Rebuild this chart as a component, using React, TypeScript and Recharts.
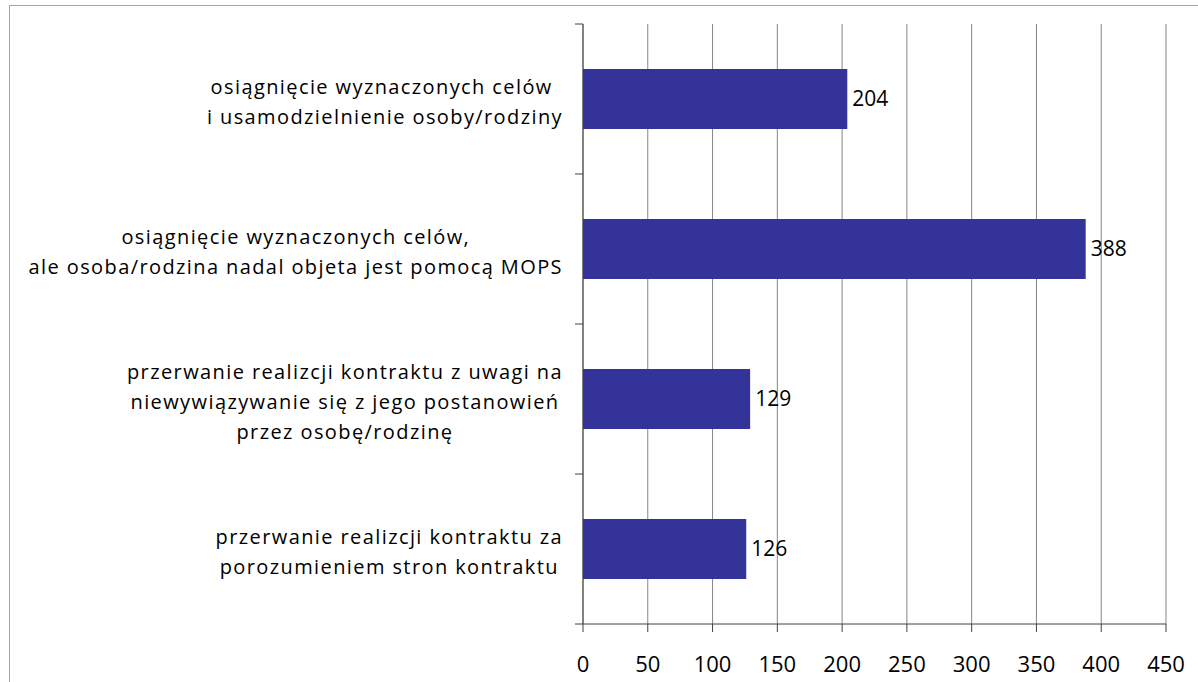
import { BarChart, Bar, XAxis, YAxis, CartesianGrid, LabelList } from 'recharts';

// categories (lines split on \n), values and axis ticks
const categories = [
  'osiągnięcie wyznaczonych celów \ni usamodzielnienie osoby/rodziny',
  'osiągnięcie wyznaczonych celów,\nale osoba/rodzina nadal objeta jest pomocą MOPS',
  'przerwanie realizcji kontraktu z uwagi na\nniewywiązywanie się z jego postanowień\nprzez osobę/rodzinę',
  'przerwanie realizcji kontraktu za\nporozumieniem stron kontraktu',
];
const values = [204, 388, 129, 126];
const xTicks = [0, 50, 100, 150, 200, 250, 300, 350, 400, 450];

const data = categories.map((name, i) => ({ name, value: values[i] }));

const W = 1198;
const H = 682;
const M_TOP = 24;
const X_AXIS_H = 58;
const LABEL_GAP = 20;
const BAND = (H - M_TOP - X_AXIS_H) / categories.length;

const FONT = '"Open Sans", sans-serif';
const LABEL_SIZE = 20;
const SPACING = 1.4;
const LINE_H = 30;
const AXIS = '#404040';
const GRID = '#868686';
const BORDER = '#a6a6a6';

let ctx: CanvasRenderingContext2D | null = null;
function textWidth(s: string) {
  if (!ctx) ctx = document.createElement('canvas').getContext('2d');
  if (!ctx) return s.length * 11;
  ctx.font = `${LABEL_SIZE}px "Open Sans"`;
  // letterSpacing is not in every canvas, so add it by hand
  return ctx.measureText(s).width + s.length * SPACING;
}

// multi-line label, lines centred on each other, block right-aligned to the axis.
// Excel puts the axis ticks between categories, so draw them here too.
function CategoryTick(props: any) {
  const { x, y, payload, index, visibleTicksCount } = props;
  const lines = String(payload.value).split('\n');
  const w = Math.max(...lines.map(textWidth));
  const cx = x - w / 2;
  const top = y + 3 - ((lines.length - 1) * LINE_H) / 2;
  const ax = x + LABEL_GAP;
  const last = index === visibleTicksCount - 1;
  return (
    <g>
      <line x1={ax - 8} x2={ax} y1={y - BAND / 2} y2={y - BAND / 2} stroke={AXIS} />
      {last && <line x1={ax - 8} x2={ax} y1={y + BAND / 2} y2={y + BAND / 2} stroke={AXIS} />}
      <text
        textAnchor="middle"
        fontFamily={FONT}
        fontSize={LABEL_SIZE}
        fill="#000"
        style={{ letterSpacing: SPACING }}
      >
        {lines.map((l, i) => (
          <tspan key={i} x={cx} y={top + i * LINE_H} dy="0.35em">
            {l}
          </tspan>
        ))}
      </text>
    </g>
  );
}

export default function App() {
  return (
    <div style={{ position: 'absolute', left: 0, top: 0, width: W, height: H, overflow: 'hidden', background: '#fff' }}>
      <div
        style={{
          position: 'absolute',
          left: 9,
          top: 5,
          width: 1240,
          height: 740,
          border: `1.5px solid ${BORDER}`,
        }}
      />
      <div style={{ position: 'absolute', left: 0, top: 0 }}>
        <BarChart
          width={W}
          height={H}
          data={data}
          layout="vertical"
          margin={{ top: M_TOP, right: 32, bottom: 0, left: 0 }}
          barCategoryGap="30%"
        >
          <CartesianGrid horizontal={false} stroke={GRID} xAxisId="bottom" yAxisId="cat" />
          <XAxis
            xAxisId="bottom"
            type="number"
            domain={[0, 450]}
            ticks={xTicks}
            interval={0}
            height={X_AXIS_H}
            tickSize={8}
            tickMargin={24}
            axisLine={{ stroke: AXIS }}
            tickLine={{ stroke: AXIS }}
            tick={{ fill: '#000', fontSize: 22, fontFamily: FONT }}
          />
          <XAxis
            xAxisId="top"
            orientation="top"
            type="number"
            domain={[0, 450]}
            height={0}
            tick={false}
            tickLine={false}
            axisLine={{ stroke: BORDER }}
          />
          <YAxis
            yAxisId="cat"
            type="category"
            dataKey="name"
            width={583}
            interval={0}
            tickLine={false}
            tickSize={0}
            tickMargin={LABEL_GAP}
            axisLine={{ stroke: AXIS }}
            tick={<CategoryTick />}
          />
          <YAxis
            yAxisId="rb"
            orientation="right"
            type="number"
            domain={[0, 4]}
            width={0}
            tick={false}
            tickLine={false}
            axisLine={{ stroke: BORDER }}
          />
          <Bar dataKey="value" xAxisId="bottom" yAxisId="cat" fill="#333399" isAnimationActive={false}>
            <LabelList dataKey="value" position="right" offset={5} fill="#000" fontSize={21} fontFamily={FONT} />
          </Bar>
        </BarChart>
      </div>
    </div>
  );
}
